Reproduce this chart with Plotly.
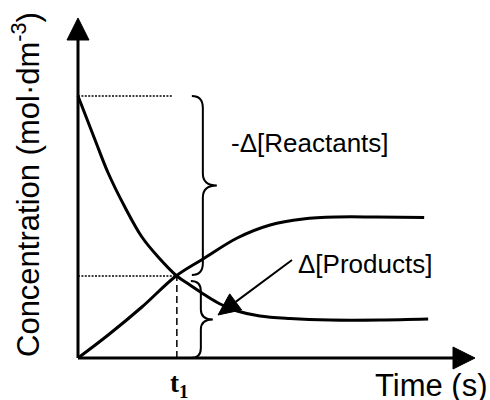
import plotly.graph_objects as go

# ---- data (time in arbitrary s units, concentration in mol/dm3 units)
reactant_t = [0.0, 0.43, 0.76, 1.18, 1.61, 2.02, 2.49, 2.82, 3.20, 3.58, 4.01, 4.58, 5.34, 6.35, 7.61, 8.82]
reactant_c = [2.62, 2.18, 1.85, 1.51, 1.21, 1.01, 0.82, 0.73, 0.63, 0.54, 0.47, 0.42, 0.395, 0.38, 0.38, 0.39]

product_t = [0.0, 0.76, 1.61, 2.47, 3.15, 4.01, 4.84, 5.67, 6.52, 7.50, 8.72]
product_c = [0.0, 0.23, 0.51, 0.82, 0.99, 1.20, 1.33, 1.39, 1.41, 1.41, 1.405]

t1 = 2.49          # time of the marked instant
c_at_t1 = 0.82     # concentration where the curves cross
c_start = 2.62     # initial reactant concentration

x_label = "Time (s)"
y_label = "Concentration (mol·dm<sup>-3</sup>)"
t1_label = "<b>t<sub>1</sub></b>"
reactant_label = "-Δ[Reactants]"
product_label = "Δ[Products]"

# ---- geometry
W, H = 490, 400
OX, OY = 78, 358          # pixel of origin
PX, PY = 39.7, 100.0      # pixels per data unit
X_END, Y_END = 10.0, 3.40  # axis extents (data)


def tx(p):  # pixel x -> data
    return (p - OX) / PX


def ty(p):  # pixel y -> data
    return (OY - p) / PY


def dx(p):
    return p / PX


def dy(p):
    return p / PY


fig = go.Figure()

fig.add_trace(go.Scatter(x=reactant_t, y=reactant_c, mode="lines",
                         line=dict(color="black", width=3, shape="spline", smoothing=1.0),
                         hoverinfo="skip", showlegend=False))
fig.add_trace(go.Scatter(x=product_t, y=product_c, mode="lines",
                         line=dict(color="black", width=3, shape="spline", smoothing=1.0),
                         hoverinfo="skip", showlegend=False))

shapes = []
# axes
shapes.append(dict(type="line", x0=0, y0=0, x1=0, y1=Y_END - dy(20), line=dict(color="black", width=3)))
shapes.append(dict(type="line", x0=0, y0=0, x1=X_END - dx(20), y1=0, line=dict(color="black", width=3)))
# arrow heads of axes
shapes.append(dict(type="path",
                   path=f"M {-dx(11)},{Y_END - dy(22)} L {dx(11)},{Y_END - dy(22)} L 0,{Y_END} Z",
                   fillcolor="black", line=dict(color="black", width=1)))
shapes.append(dict(type="path",
                   path=f"M {X_END - dx(22)},{dy(11)} L {X_END - dx(22)},{-dy(11)} L {X_END},0 Z",
                   fillcolor="black", line=dict(color="black", width=1)))

# dotted guide lines
shapes.append(dict(type="line", x0=0, y0=c_start, x1=t1 - dx(5), y1=c_start,
                   line=dict(color="black", width=1.5, dash="2px,1.4px")))
shapes.append(dict(type="line", x0=0, y0=c_at_t1, x1=t1, y1=c_at_t1,
                   line=dict(color="black", width=1.5, dash="2px,1.4px")))
# dashed vertical at t1
shapes.append(dict(type="line", x0=t1, y0=0, x1=t1, y1=c_at_t1,
                   line=dict(color="black", width=1.5, dash="7px,4px")))


def brace(x0p, xvp, xtp, ytop, ybot, r):
    """curly brace given pixel x positions and data y extents"""
    y0p = OY - ytop * PY
    y1p = OY - ybot * PY
    ymp = (y0p + y1p) / 2
    pts = [
        ("M", [(x0p, y0p)]),
        ("Q", [(xvp, y0p), (xvp, y0p + r)]),
        ("L", [(xvp, ymp - r)]),
        ("Q", [(xvp, ymp), (xtp, ymp)]),
        ("Q", [(xvp, ymp), (xvp, ymp + r)]),
        ("L", [(xvp, y1p - r)]),
        ("Q", [(xvp, y1p), (x0p, y1p)]),
    ]
    s = ""
    for cmd, ps in pts:
        s += cmd + " " + " ".join(f"{tx(a):.4f},{ty(b):.4f}" for a, b in ps) + " "
    return s


t1p = OX + t1 * PX
shapes.append(dict(type="path", path=brace(t1p + 15, t1p + 26, t1p + 40, c_start, c_at_t1 + dy(1), 12),
                   line=dict(color="black", width=2)))
shapes.append(dict(type="path", path=brace(t1p + 14, t1p + 24, t1p + 36, c_at_t1 - dy(5), 0, 10),
                   line=dict(color="black", width=2)))

# pointer arrow to the products brace
tail = (292, 260)
tip = (218, 315)
ux, uy = tip[0] - tail[0], tip[1] - tail[1]
L = (ux ** 2 + uy ** 2) ** 0.5
ux, uy = ux / L, uy / L
hl, hw = 22, 10
bx, by = tip[0] - hl * ux, tip[1] - hl * uy
nx, ny = -uy, ux
shapes.append(dict(type="line", x0=tx(tail[0]), y0=ty(tail[1]), x1=tx(bx), y1=ty(by),
                   line=dict(color="black", width=2)))
shapes.append(dict(type="path",
                   path=f"M {tx(tip[0])},{ty(tip[1])} L {tx(bx + hw * nx)},{ty(by + hw * ny)} "
                        f"L {tx(bx - hw * nx)},{ty(by - hw * ny)} Z",
                   fillcolor="black", line=dict(color="black", width=1)))

sans = "Liberation Sans, Arial, sans-serif"
annotations = [
    dict(x=tx(229), y=ty(143), text=reactant_label, showarrow=False, xanchor="left", yanchor="middle",
         font=dict(family=sans, size=26, color="black")),
    dict(x=tx(296), y=ty(264), text=product_label, showarrow=False, xanchor="left", yanchor="middle",
         font=dict(family=sans, size=26, color="black")),
    dict(x=tx(373), y=ty(385), text=x_label, showarrow=False, xanchor="left", yanchor="middle",
         font=dict(family=sans, size=31, color="black")),
    dict(x=tx(26), y=ty(185), text=y_label, showarrow=False, xanchor="center", yanchor="middle",
         textangle=-90, font=dict(family=sans, size=31, color="black")),
    dict(x=t1 + dx(2), y=ty(385), text=t1_label, showarrow=False, xanchor="center", yanchor="middle",
         font=dict(family="Liberation Serif, Times New Roman, serif", size=27, color="black")),
]

fig.update_layout(
    width=W, height=H,
    margin=dict(l=0, r=0, t=0, b=0),
    paper_bgcolor="white", plot_bgcolor="white",
    xaxis=dict(range=[tx(0), tx(W)], visible=False, fixedrange=True),
    yaxis=dict(range=[ty(H), ty(0)], visible=False, fixedrange=True),
    shapes=shapes,
    annotations=annotations,
    showlegend=False,
)

fig.write_html("out.html", config={"displayModeBar": False},
               post_script="document.body.style.margin='0';document.body.style.overflow='hidden';")
